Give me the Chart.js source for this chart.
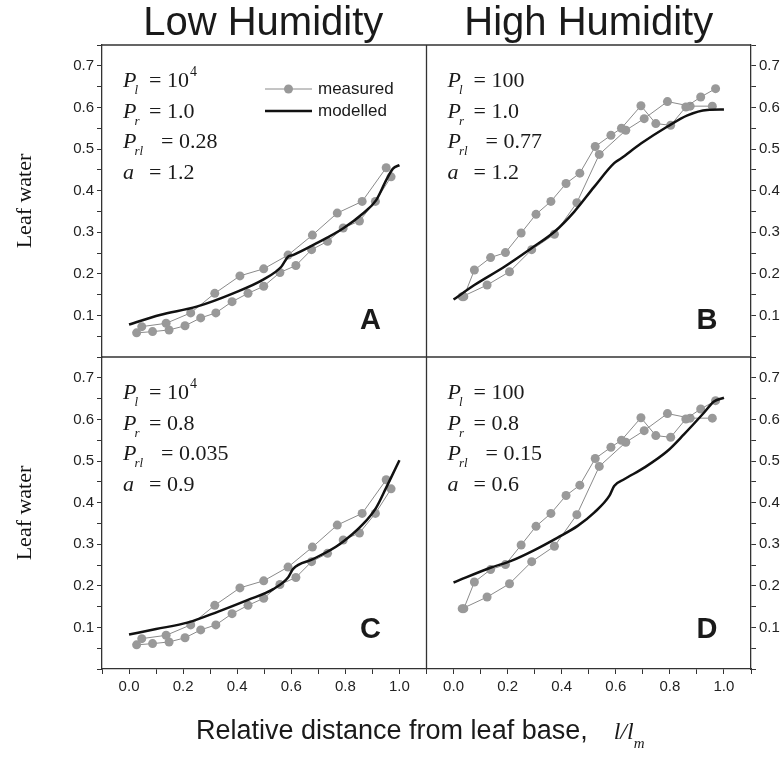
<!DOCTYPE html>
<html>
<head>
<meta charset="utf-8">
<script src="https://cdn.jsdelivr.net/npm/chart.js@4.4.1/dist/chart.umd.min.js"></script>
<style>
  html, body { margin: 0; padding: 0; background: #fff; }
  #wrap { width: 782px; height: 762px; }
</style>
</head>
<body>
<div id="wrap"><canvas id="leaf-chart" width="782" height="762"></canvas></div>
<script>
// measured leaf water, low humidity (two leaves) - panels A and C
const lowX1 = [0.047, 0.137, 0.228, 0.317, 0.410, 0.498, 0.588, 0.678, 0.770, 0.862, 0.951];
const lowY1 = [0.073, 0.081, 0.106, 0.153, 0.195, 0.212, 0.245, 0.293, 0.346, 0.374, 0.455];
const lowX2 = [0.028, 0.087, 0.148, 0.207, 0.265, 0.321, 0.381, 0.440, 0.498, 0.558, 0.617, 0.675, 0.734, 0.792, 0.852, 0.911, 0.969];
const lowY2 = [0.058, 0.061, 0.065, 0.075, 0.094, 0.106, 0.133, 0.153, 0.170, 0.203, 0.220, 0.258, 0.278, 0.310, 0.327, 0.374, 0.433];

// measured leaf water, high humidity - panels B and D
const highX1 = [0.038, 0.077, 0.137, 0.192, 0.250, 0.305, 0.360, 0.416, 0.467, 0.524, 0.582, 0.621, 0.693, 0.748, 0.803, 0.859, 0.914, 0.969];
const highY1 = [0.145, 0.209, 0.239, 0.251, 0.298, 0.343, 0.374, 0.417, 0.442, 0.506, 0.533, 0.550, 0.604, 0.561, 0.557, 0.601, 0.625, 0.645];
const highX2 = [0.032, 0.124, 0.207, 0.289, 0.373, 0.456, 0.539, 0.637, 0.705, 0.791, 0.875, 0.957];
const highY2 = [0.145, 0.173, 0.205, 0.258, 0.295, 0.371, 0.487, 0.545, 0.573, 0.614, 0.603, 0.603];

// modelled curves
const modelAX = [0, 0.114, 0.25, 0.385, 0.496, 0.563, 0.588, 0.606, 0.692, 0.791, 0.865, 0.914, 0.951, 0.976, 1.0];
const modelAY = [0.078, 0.101, 0.121, 0.153, 0.186, 0.217, 0.241, 0.245, 0.273, 0.309, 0.345, 0.377, 0.425, 0.453, 0.461];
const modelBX = [0, 0.077, 0.188, 0.287, 0.373, 0.446, 0.520, 0.594, 0.619, 0.693, 0.791, 0.865, 0.938, 1.0];
const modelBY = [0.138, 0.173, 0.217, 0.261, 0.301, 0.349, 0.409, 0.466, 0.477, 0.513, 0.554, 0.581, 0.594, 0.595];
const modelCX = [0, 0.1, 0.219, 0.33, 0.44, 0.533, 0.588, 0.606, 0.68, 0.779, 0.865, 0.914, 0.951, 0.969, 1.0];
const modelCY = [0.083, 0.096, 0.112, 0.138, 0.166, 0.192, 0.220, 0.240, 0.264, 0.300, 0.348, 0.388, 0.436, 0.460, 0.502];
const modelDX = [0, 0.139, 0.213, 0.299, 0.385, 0.459, 0.520, 0.576, 0.594, 0.631, 0.705, 0.791, 0.852, 0.926, 0.963, 1.0];
const modelDY = [0.208, 0.244, 0.260, 0.286, 0.316, 0.344, 0.376, 0.416, 0.440, 0.456, 0.484, 0.524, 0.564, 0.616, 0.643, 0.652];

// model parameters per panel A, B, C, D
const panelLetters = ['A', 'B', 'C', 'D'];
const paramPl    = ['10', '100', '10', '100'];
const paramPlExp = ['4', '', '4', ''];
const paramPr    = ['1.0', '1.0', '0.8', '0.8'];
const paramPrl   = ['0.28', '0.77', '0.035', '0.15'];
const paramA     = ['1.2', '1.2', '0.9', '0.6'];

const columnTitles = ['Low Humidity', 'High Humidity'];
const legendLabels = ['measured', 'modelled'];

const SANS = '"Liberation Sans", Arial, sans-serif';
const SERIF = '"Liberation Serif", "Times New Roman", serif';
const GREY = '#999999';

const toPts = (xs, ys) => xs.map((x, i) => ({ x: x, y: ys[i] }));

function measured(xs, ys, xId, yId) {
    return {
        data: toPts(xs, ys), xAxisID: xId, yAxisID: yId,
        borderColor: '#8a8a8a', borderWidth: 1,
        pointRadius: 4.5, pointBackgroundColor: GREY, pointBorderWidth: 0,
        order: 1
    };
}
function modelled(xs, ys, xId, yId) {
    return {
        data: toPts(xs, ys), xAxisID: xId, yAxisID: yId,
        borderColor: '#111', borderWidth: 2.5, pointRadius: 0,
        cubicInterpolationMode: 'monotone', order: 0
    };
}

function xAxis(weight) {
    return {
        type: 'linear', position: 'bottom', stack: 'x', weight: weight,
        min: -0.1, max: 1.1,
        grid: { drawOnChartArea: false, tickLength: 5, tickColor: '#333' },
        border: { color: '#333', width: 1.3 },
        ticks: {
            stepSize: 0.1, autoSkip: false, maxRotation: 0, padding: 4,
            color: '#222', font: { family: SANS, size: 15 },
            callback: (v) => {
                const k = Math.round(v * 10);
                return (k >= 0 && k <= 10 && k % 2 === 0) ? (k / 10).toFixed(1) : '';
            }
        },
        afterFit: (s) => { s.height = 93; }
    };
}

function yAxis(pos, weight, withTitle) {
    return {
        type: 'linear', position: pos, stack: pos === 'left' ? 'yl' : 'yr', weight: weight,
        min: 0, max: 0.75,
        grid: { drawOnChartArea: false, tickLength: 5, tickColor: '#333' },
        border: { color: '#333', width: 1.3 },
        ticks: {
            stepSize: 0.05, autoSkip: false, padding: 3,
            color: '#222', font: { family: SANS, size: 15 },
            callback: (v) => {
                const k = Math.round(v * 100);
                return (k >= 10 && k <= 70 && k % 10 === 0) ? (k / 100).toFixed(1) : '';
            }
        },
        title: {
            display: withTitle, text: 'Leaf water', color: '#111',
            font: { family: SERIF, size: 22 }, padding: { top: 12, bottom: 0 }
        },
        afterFit: (s) => { s.width = pos === 'left' ? 102 : 31; }
    };
}

function drawParams(ctx, x0, y0, i) {
    const rows = [['P', 'l', paramPl[i]], ['P', 'r', paramPr[i]], ['P', 'rl', paramPrl[i]], ['a', '', paramA[i]]];
    ctx.textAlign = 'left';
    ctx.textBaseline = 'alphabetic';
    rows.forEach((r, k) => {
        const y = y0 + k * 30.5;
        ctx.font = 'italic 22px ' + SERIF;
        ctx.fillText(r[0], x0, y);
        const w = ctx.measureText(r[0]).width;
        ctx.font = 'italic 13px ' + SERIF;
        ctx.fillText(r[1], x0 + w - 2, y + 7);
        const eqX = x0 + (r[1].length > 1 ? 38 : 26);
        ctx.font = '22px ' + SERIF;
        const txt = '= ' + r[2];
        ctx.fillText(txt, eqX, y);
        if (k === 0 && paramPlExp[i]) {
            const tw = ctx.measureText(txt).width;
            ctx.font = '14px ' + SERIF;
            ctx.fillText(paramPlExp[i], eqX + tw + 1, y - 11);
        }
    });
}

const decorations = {
    id: 'decorations',
    afterDraw(chart) {
        const { ctx, chartArea: ca, scales } = chart;
        const xl = scales.xl, xr = scales.xr, yt = scales.yt, yb = scales.yb;
        ctx.save();

        // frame top and panel dividers
        ctx.strokeStyle = '#333';
        ctx.lineWidth = 1.3;
        ctx.beginPath();
        ctx.moveTo(ca.left, ca.top); ctx.lineTo(ca.right, ca.top);
        ctx.moveTo(xl.right, ca.top); ctx.lineTo(xl.right, ca.bottom);
        ctx.moveTo(ca.left, yt.bottom); ctx.lineTo(ca.right, yt.bottom);
        ctx.stroke();

        ctx.fillStyle = '#1a1a1a';

        // column titles
        ctx.textAlign = 'center';
        ctx.textBaseline = 'alphabetic';
        ctx.font = '40px ' + SANS;
        ctx.fillText(columnTitles[0], (xl.left + xl.right) / 2 - 1, 35);
        ctx.fillText(columnTitles[1], (xr.left + xr.right) / 2, 35);

        // panel parameters and letters
        const panels = [[xl, yt], [xr, yt], [xl, yb], [xr, yb]];
        panels.forEach((p, i) => {
            const [xs, ys] = p;
            drawParams(ctx, xs.left + 21, ys.top + 42, i);
            ctx.font = 'bold 29px ' + SANS;
            ctx.textAlign = 'center';
            const cx = i % 2 === 0 ? xs.right - 56 : xs.right - 44;
            const by = i < 2 ? ys.bottom - 28 : ys.bottom - 31;
            ctx.fillText(panelLetters[i], cx, by);
        });

        // legend in panel A
        const lx = xl.left + 163, ly = yt.top + 44;
        ctx.lineWidth = 1;
        ctx.strokeStyle = '#8a8a8a';
        ctx.beginPath(); ctx.moveTo(lx, ly); ctx.lineTo(lx + 47, ly); ctx.stroke();
        ctx.fillStyle = GREY;
        ctx.beginPath(); ctx.arc(lx + 23.5, ly, 4.5, 0, Math.PI * 2); ctx.fill();
        ctx.lineWidth = 2.5;
        ctx.strokeStyle = '#111';
        ctx.beginPath(); ctx.moveTo(lx, ly + 22); ctx.lineTo(lx + 47, ly + 22); ctx.stroke();
        ctx.fillStyle = '#1a1a1a';
        ctx.font = '17px ' + SANS;
        ctx.textAlign = 'left';
        ctx.textBaseline = 'middle';
        ctx.fillText(legendLabels[0], lx + 53, ly);
        ctx.fillText(legendLabels[1], lx + 53, ly + 22);

        // x axis title
        ctx.textBaseline = 'alphabetic';
        ctx.font = '27px ' + SANS;
        const xt = 'Relative distance from leaf base,';
        const tx = 196, ty = 739;
        ctx.fillText(xt, tx, ty);
        const ix = tx + ctx.measureText(xt).width + 26;
        ctx.font = 'italic 24px ' + SERIF;
        ctx.fillText('l/l', ix, ty);
        const iw = ctx.measureText('l/l').width;
        ctx.font = 'italic 15px ' + SERIF;
        ctx.fillText('m', ix + iw, ty + 9);

        ctx.restore();
    }
};

new Chart(document.getElementById('leaf-chart'), {
    type: 'line',
    data: {
        datasets: [
            modelled(modelAX, modelAY, 'xl', 'yt'),
            measured(lowX1, lowY1, 'xl', 'yt'),
            measured(lowX2, lowY2, 'xl', 'yt'),
            modelled(modelBX, modelBY, 'xr', 'ytR'),
            measured(highX1, highY1, 'xr', 'ytR'),
            measured(highX2, highY2, 'xr', 'ytR'),
            modelled(modelCX, modelCY, 'xl', 'yb'),
            measured(lowX1, lowY1, 'xl', 'yb'),
            measured(lowX2, lowY2, 'xl', 'yb'),
            modelled(modelDX, modelDY, 'xr', 'ybR'),
            measured(highX1, highY1, 'xr', 'ybR'),
            measured(highX2, highY2, 'xr', 'ybR')
        ]
    },
    options: {
        responsive: false,
        animation: false,
        devicePixelRatio: 1,
        layout: { padding: { top: 45, left: 0, right: 0, bottom: 0 } },
        plugins: { legend: { display: false }, tooltip: { enabled: false } },
        scales: {
            xl: xAxis(0),
            xr: xAxis(1),
            yt: yAxis('left', 1, true),
            yb: yAxis('left', 0, true),
            ytR: yAxis('right', 0, false),
            ybR: yAxis('right', 1, false)
        }
    },
    plugins: [decorations]
});
</script>
</body>
</html>
